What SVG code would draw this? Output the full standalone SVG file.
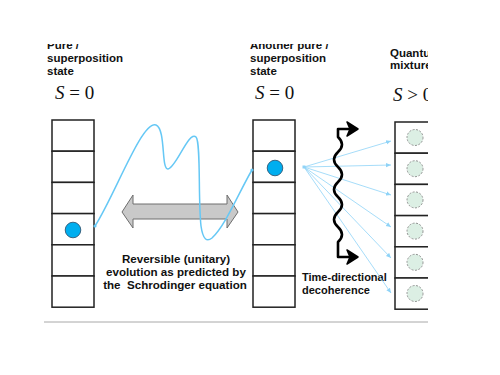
<svg xmlns="http://www.w3.org/2000/svg" width="500" height="375" viewBox="0 0 500 375">
<style>
.t{font-family:"Liberation Sans",Arial,sans-serif;font-weight:bold;fill:#111}
.m{font-family:"Liberation Serif","Times New Roman",serif;font-size:19px;fill:#111}
.cell{fill:#fff;stroke:#222;stroke-width:1.5}
.dot{fill:#00aeef;stroke:#2a4a66;stroke-width:0.8}
.mix{fill:#dcefe4;stroke:#888;stroke-width:0.9;stroke-dasharray:2 1.5}
.fan{stroke:#8fd3f7;stroke-width:0.8;fill:none}
</style>
<defs>
<clipPath id="c"><rect x="0" y="44" width="428" height="331"/></clipPath>
<marker id="ah" markerWidth="6" markerHeight="6" refX="5" refY="3" orient="auto" markerUnits="userSpaceOnUse">
<path d="M0,0.8 L5,3 L0,5.2 Z" fill="#8fd3f7"/>
</marker>
</defs>
<g clip-path="url(#c)">
<g id="labels">
<text class="t" font-size="11.5" x="47" y="49">Pure /</text>
<text class="t" font-size="11.5" x="47" y="62">superposition</text>
<text class="t" font-size="11.5" x="47" y="75">state</text>
<text class="m" x="55" y="99"><tspan font-style="italic">S</tspan> = 0</text>
<text class="t" font-size="11.5" x="250" y="49">Another pure /</text>
<text class="t" font-size="11.5" x="250" y="62">superposition</text>
<text class="t" font-size="11.5" x="250" y="75">state</text>
<text class="m" x="255" y="99"><tspan font-style="italic">S</tspan> = 0</text>
<text class="t" font-size="11.5" x="390" y="57">Quantum</text>
<text class="t" font-size="11.5" x="390" y="69">mixture</text>
<text class="m" x="393" y="101"><tspan font-style="italic">S</tspan> &gt; 0</text>
<text class="t" font-size="11.6" x="176" y="263" text-anchor="middle">Reversible (unitary)</text>
<text class="t" font-size="11.6" x="176" y="276" text-anchor="middle">evolution as predicted by</text>
<text class="t" font-size="11.6" x="175" y="289" text-anchor="middle">the &#160;Schrodinger equation</text>
<text class="t" font-size="11" x="302" y="281">Time-directional</text>
<text class="t" font-size="11" x="302" y="294">decoherence</text>
</g>
<g id="state-left">
<rect class="cell" x="52" y="120" width="42" height="31.2"/>
<rect class="cell" x="52" y="151.2" width="42" height="31.2"/>
<rect class="cell" x="52" y="182.4" width="42" height="31.2"/>
<rect class="cell" x="52" y="213.6" width="42" height="31.2"/>
<rect class="cell" x="52" y="244.8" width="42" height="31.2"/>
<rect class="cell" x="52" y="276" width="42" height="31.2"/>
<circle class="dot" cx="73" cy="230" r="7.8"/>
</g>
<g id="state-middle">
<rect class="cell" x="253" y="120" width="42" height="31.2"/>
<rect class="cell" x="253" y="151.2" width="42" height="31.2"/>
<rect class="cell" x="253" y="182.4" width="42" height="31.2"/>
<rect class="cell" x="253" y="213.6" width="42" height="31.2"/>
<rect class="cell" x="253" y="244.8" width="42" height="31.2"/>
<rect class="cell" x="253" y="276" width="42" height="31.2"/>
<circle class="dot" cx="275" cy="168" r="7.8"/>
</g>
<g id="state-mixture">
<rect class="cell" x="395" y="122" width="42" height="31.2"/>
<rect class="cell" x="395" y="153.2" width="42" height="31.2"/>
<rect class="cell" x="395" y="184.4" width="42" height="31.2"/>
<rect class="cell" x="395" y="215.6" width="42" height="31.2"/>
<rect class="cell" x="395" y="246.8" width="42" height="31.2"/>
<rect class="cell" x="395" y="278" width="42" height="31.2"/>
<circle class="mix" cx="415" cy="137.5" r="8"/>
<circle class="mix" cx="415" cy="168.7" r="8"/>
<circle class="mix" cx="415" cy="199.9" r="8"/>
<circle class="mix" cx="415" cy="231.1" r="8"/>
<circle class="mix" cx="415" cy="262.3" r="8"/>
<circle class="mix" cx="415" cy="293.5" r="8"/>
</g>
<g id="connectors">
<path d="M122,212 L133,195 L133,204 L227,204 L227,195 L238,212 L227,228 L227,219 L133,219 L133,228 Z" fill="#c9c9c9" stroke="#6e6e6e" stroke-width="1"/>
<path d="M95,226 C115,195 142,120 156,125 C166,129 161,170 168,169 C176,168 189,130 196,137 C201,142 198,200 201,226 C203,240 207,242 212,238 C226,225 240,190 252,170" fill="none" stroke="#66c8f5" stroke-width="1.5"/>
<circle cx="95" cy="226" r="1.6" fill="#66c8f5"/>
<circle cx="252" cy="170" r="1.6" fill="#66c8f5"/>
<g class="fan" marker-end="url(#ah)">
<line x1="304" y1="167" x2="391" y2="141"/>
<line x1="304" y1="167" x2="391" y2="165"/>
<line x1="304" y1="167" x2="391" y2="195"/>
<line x1="304" y1="167" x2="391" y2="227"/>
<line x1="304" y1="167" x2="391" y2="258"/>
<line x1="304" y1="167" x2="391" y2="293"/>
</g>
<rect x="302.5" y="165.5" width="3" height="3" fill="#8fd3f7"/>
<path d="M355,129 L338,129 L338,137 q8,7.5 0,15 t0,15 t0,15 t0,15 t0,15 t0,15 t0,15 L338,257 L355,257" fill="none" stroke="#000" stroke-width="2.6" stroke-linejoin="round"/>
<path d="M358,129 L347,122 L350,129 L347,136 Z" fill="#000" stroke="#000" stroke-width="1.5" stroke-linejoin="round"/>
<path d="M358,257 L347,250 L350,257 L347,264 Z" fill="#000" stroke="#000" stroke-width="1.5" stroke-linejoin="round"/>
<line x1="44" y1="322" x2="428" y2="322" stroke="#a8a8a8" stroke-width="1"/>
</g>
</g>
</svg>
